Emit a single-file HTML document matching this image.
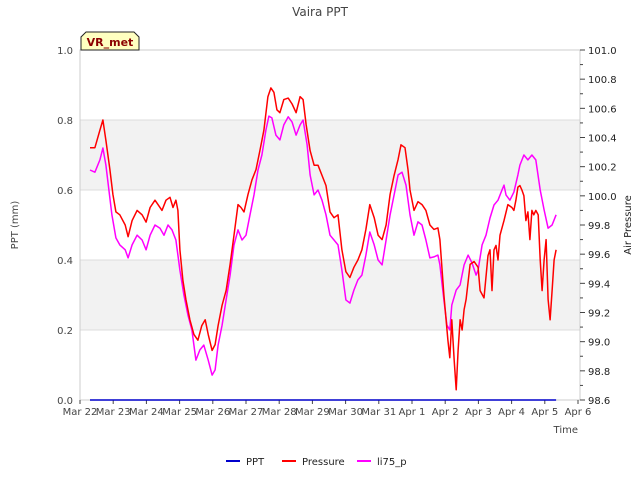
<!DOCTYPE html>
<html><head><meta charset="utf-8"><style>
body{margin:0;background:#fff;}
svg{font-family:"DejaVu Sans","Liberation Sans",sans-serif;}
</style></head><body>
<svg id="chart" width="640" height="480" xmlns="http://www.w3.org/2000/svg"></svg>
<script>
const xTickLabels=["Mar 22","Mar 23","Mar 24","Mar 25","Mar 26","Mar 27","Mar 28","Mar 29","Mar 30","Mar 31","Apr 1","Apr 2","Apr 3","Apr 4","Apr 5","Apr 6"];
const leftTicks=[0.0,0.2,0.4,0.6,0.8,1.0];
const rightTicks=[98.6,98.8,99.0,99.2,99.4,99.6,99.8,100.0,100.2,100.4,100.6,100.8,101.0];
const pptDays=[0.3,14.34];
const pptVals=[0,0];
const presDays=[0.30,0.45,0.60,0.69,0.78,0.90,0.99,1.08,1.20,1.36,1.45,1.57,1.72,1.87,1.99,2.11,2.26,2.35,2.47,2.59,2.71,2.80,2.89,2.95,3.01,3.10,3.19,3.31,3.43,3.55,3.67,3.77,3.86,3.98,4.07,4.16,4.28,4.40,4.52,4.64,4.76,4.85,4.94,5.06,5.18,5.30,5.42,5.54,5.66,5.75,5.84,5.93,6.02,6.14,6.27,6.39,6.51,6.63,6.72,6.81,6.93,7.05,7.17,7.29,7.41,7.53,7.65,7.77,7.89,8.01,8.13,8.25,8.37,8.49,8.61,8.73,8.86,8.98,9.10,9.22,9.34,9.46,9.58,9.67,9.79,9.88,9.94,10.06,10.18,10.30,10.42,10.54,10.66,10.78,10.84,10.96,11.08,11.14,11.20,11.27,11.33,11.39,11.45,11.51,11.57,11.63,11.75,11.87,11.99,12.05,12.17,12.29,12.35,12.41,12.47,12.53,12.59,12.65,12.77,12.89,13.01,13.07,13.13,13.19,13.25,13.31,13.37,13.43,13.49,13.55,13.61,13.67,13.73,13.80,13.86,13.92,13.98,14.04,14.10,14.16,14.22,14.28,14.34];
const presVals=[100.33,100.33,100.45,100.52,100.38,100.18,100.01,99.89,99.87,99.80,99.72,99.83,99.90,99.87,99.82,99.92,99.97,99.94,99.90,99.97,99.99,99.92,99.97,99.90,99.63,99.42,99.29,99.15,99.05,99.01,99.11,99.15,99.05,98.94,98.98,99.11,99.25,99.35,99.53,99.73,99.94,99.92,99.89,100.01,100.11,100.18,100.31,100.45,100.68,100.74,100.71,100.59,100.57,100.66,100.67,100.63,100.57,100.68,100.66,100.49,100.31,100.21,100.21,100.14,100.07,99.89,99.85,99.87,99.63,99.48,99.44,99.51,99.56,99.63,99.77,99.94,99.85,99.73,99.70,99.80,100.01,100.14,100.25,100.35,100.33,100.18,100.04,99.90,99.96,99.94,99.90,99.80,99.77,99.78,99.70,99.32,99.01,98.89,99.15,98.87,98.67,98.94,99.15,99.08,99.22,99.29,99.53,99.55,99.51,99.35,99.30,99.59,99.63,99.35,99.63,99.66,99.56,99.73,99.83,99.94,99.92,99.90,99.97,100.06,100.07,100.04,100.00,99.83,99.89,99.70,99.90,99.87,99.90,99.87,99.56,99.35,99.56,99.70,99.29,99.15,99.35,99.56,99.63];
const liDays=[0.30,0.45,0.60,0.69,0.78,0.87,0.96,1.08,1.20,1.36,1.45,1.57,1.72,1.87,1.99,2.11,2.26,2.41,2.53,2.65,2.77,2.89,3.01,3.13,3.25,3.37,3.49,3.61,3.73,3.86,3.98,4.07,4.16,4.28,4.40,4.52,4.64,4.76,4.88,5.00,5.12,5.24,5.36,5.48,5.60,5.69,5.78,5.90,6.02,6.14,6.27,6.39,6.51,6.63,6.72,6.84,6.93,7.05,7.17,7.29,7.41,7.53,7.65,7.77,7.89,8.01,8.13,8.25,8.37,8.49,8.61,8.73,8.86,8.98,9.10,9.22,9.34,9.46,9.58,9.70,9.82,9.94,10.06,10.18,10.30,10.42,10.54,10.66,10.78,10.84,10.96,11.05,11.14,11.20,11.33,11.45,11.57,11.69,11.81,11.93,11.99,12.11,12.23,12.35,12.47,12.59,12.71,12.77,12.83,12.95,13.07,13.19,13.25,13.37,13.49,13.61,13.73,13.86,13.98,14.10,14.22,14.34];
const liVals=[0.657,0.651,0.686,0.72,0.671,0.60,0.529,0.463,0.443,0.429,0.406,0.443,0.471,0.457,0.429,0.471,0.50,0.491,0.471,0.50,0.486,0.457,0.371,0.30,0.243,0.20,0.114,0.143,0.157,0.114,0.071,0.086,0.157,0.214,0.286,0.357,0.443,0.486,0.457,0.471,0.529,0.586,0.657,0.70,0.771,0.811,0.806,0.757,0.743,0.786,0.809,0.794,0.757,0.786,0.80,0.729,0.643,0.586,0.60,0.571,0.529,0.471,0.457,0.443,0.371,0.286,0.277,0.314,0.343,0.357,0.414,0.48,0.443,0.40,0.386,0.457,0.529,0.586,0.643,0.651,0.614,0.529,0.471,0.509,0.50,0.457,0.406,0.409,0.414,0.386,0.286,0.214,0.20,0.271,0.314,0.329,0.386,0.414,0.391,0.357,0.371,0.443,0.471,0.52,0.557,0.571,0.60,0.614,0.586,0.571,0.594,0.643,0.671,0.70,0.686,0.70,0.686,0.60,0.543,0.491,0.50,0.529];

const L=80,R=580,T=50,B=400;
const xs=d=>L+d*33.2;
const yl=v=>B-(v-0)/(1.0-0)*(B-T);
const yr=v=>B-(v-98.6)/(101.0-98.6)*(B-T);
const svg=document.getElementById('chart');
const NS='http://www.w3.org/2000/svg';
function mk(tag,attrs,parent){const e=document.createElementNS(NS,tag);for(const k in attrs)e.setAttribute(k,attrs[k]);(parent||svg).appendChild(e);return e;}
function txt(s,attrs){const e=mk('text',attrs);e.textContent=s;return e;}

// bands
[[0.2,0.4],[0.6,0.8]].forEach(b=>{const r=mk('rect',{x:L,y:yl(b[1]),width:R-L,height:yl(b[0])-yl(b[1]),fill:'#f2f2f2'});

});
leftTicks.forEach(v=>{const g=mk('line',{x1:L,x2:R,y1:yl(v),y2:yl(v),stroke:'#dcdcdc','stroke-width':1});

});
const fr=mk('rect',{x:L,y:T,width:R-L,height:B-T,fill:'none',stroke:'#cccccc'});



// left ticks
leftTicks.forEach(v=>{const t=txt(v.toFixed(1),{x:L-7,y:yl(v)+4,'text-anchor':'end','font-size':10,fill:'#444'});

});
// right ticks
rightTicks.forEach(v=>{mk('line',{x1:R,x2:R+5,y1:yr(v),y2:yr(v),stroke:'#444'});
const t=txt(v.toFixed(1),{x:R+8,y:yr(v)+4,'font-size':10,fill:'#222'});

});
for(let i=0;i<rightTicks.length-1;i++){const v=(rightTicks[i]+rightTicks[i+1])/2;mk('line',{x1:R,x2:R+3,y1:yr(v),y2:yr(v),stroke:'#444'});}
// x ticks
xTickLabels.forEach((s,i)=>{mk('line',{x1:xs(i),x2:xs(i),y1:B,y2:B+4,stroke:'#444'});
const t=txt(s,{x:xs(i),y:B+15,'text-anchor':'middle','font-size':10,fill:'#444'});

});

function line(days,vals,sc,color,name){const p=days.map((d,i)=>(i?'L':'M')+xs(d).toFixed(1)+' '+sc(vals[i]).toFixed(1)).join('');
const e=mk('path',{d:p,fill:'none',stroke:color,'stroke-width':1.5,'stroke-linejoin':'round'});

}
line(liDays,liVals,yl,'#ff00ff','li75-p-line');
line(presDays,presVals,yr,'#ff0000','pressure-line');
line(pptDays,pptVals,yl,'#0000cc','ppt-line');

let t;
t=txt('Vaira PPT',{x:320,y:16,'text-anchor':'middle','font-size':12,fill:'#444'});

t=txt('PPT (mm)',{x:0,y:0,'text-anchor':'middle','font-size':10,fill:'#444',transform:'translate(18,225) rotate(-90)'});

t=txt('Air Pressure',{x:0,y:0,'text-anchor':'middle','font-size':10,fill:'#222',transform:'translate(631,225) rotate(-90)'});

t=txt('Time',{x:578,y:433,'text-anchor':'end','font-size':10,fill:'#444'});


// VR_met badge
const bd=mk('path',{d:'M81 50 L81 37 L86 32 L134 32 L139 37 L139 50 Z',fill:'#ffffc0',stroke:'#222'});

t=txt('VR_met',{x:110,y:46,'text-anchor':'middle','font-size':11,'font-weight':'bold',fill:'#8b0000'});


// legend
[['PPT','#0000cc',226],['Pressure','#ff0000',282],['li75_p','#ff00ff',357]].forEach(l=>{
const g=mk('g',{});


mk('line',{x1:l[2],x2:l[2]+14,y1:461,y2:461,stroke:l[1],'stroke-width':2},g);
const tt=mk('text',{x:l[2]+20,y:465,'font-size':10,fill:'#222'},g);tt.textContent=l[0];});
</script>
</body></html>
